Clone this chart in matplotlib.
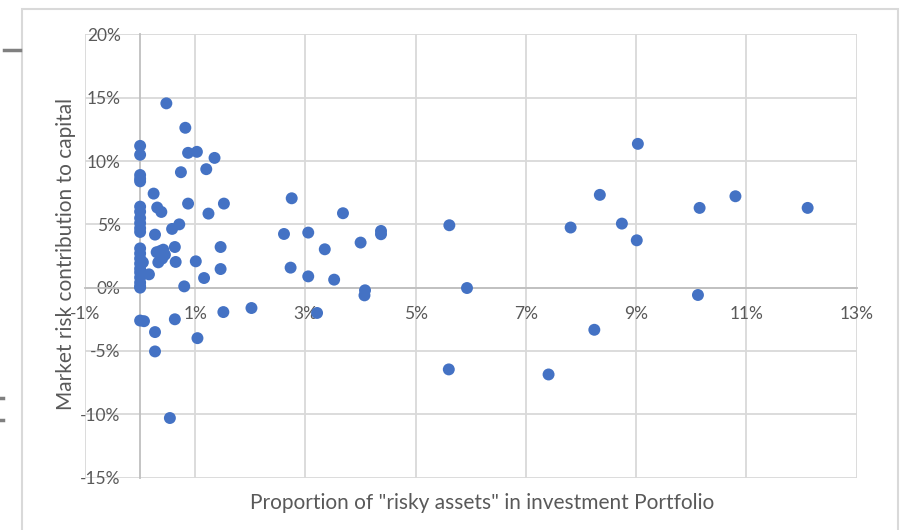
import matplotlib
matplotlib.use("Agg")
import matplotlib.pyplot as plt
from matplotlib.lines import Line2D
from matplotlib.patches import Rectangle
from matplotlib.ticker import FuncFormatter

# Proportion of risky assets (%) and market risk contribution (%)
risky_share = [
    # stack at 0%
    0, 0, 0, 0, 0, 0, 0, 0, 0, 0, 0, 0, 0, 0, 0, 0, 0, 0, 0, 0, 0, 0,
    # near zero
    0.07, 0.16, 0.05, 0.245, 0.31, 0.385, 0.27, 0.58, 0.71, 0.87, 1.24, 1.52,
    1.46, 1.46, 1.01, 1.16, 0.80, 0.645, 0.63,
    0.33, 0.37, 0.42, 0.40, 0.45, 0.30,
    0.476, 0.82, 0.87, 1.03, 1.35, 1.20, 0.74,
    1.51, 2.02, 0.63, 0.27, 1.04, 0.27, 0.54,
    # middle
    2.75, 3.68, 2.61, 3.05, 4.37, 4.37, 4.00, 3.35, 5.61, 2.73, 3.05, 3.52,
    4.08, 4.07, 5.93, 3.21, 5.60, 7.41,
    # right
    9.03, 8.34, 10.80, 10.15, 12.11, 7.81, 8.74, 9.01, 10.12, 8.24,
]
risk_contribution = [
    11.2, 10.5, 8.9, 8.6, 8.4, 6.4, 6.0, 5.5, 5.1, 4.7, 4.4,
    3.1, 2.7, 2.3, 1.9, 1.5, 1.2, 0.8, 0.4, 0.1, -2.6, 0.0,
    -2.65, 1.05, 2.0, 7.43, 6.33, 5.98, 4.19, 4.64, 5.0, 6.64, 5.85, 6.64,
    3.21, 1.47, 2.08, 0.76, 0.1, 2.03, 3.21,
    2.0, 2.9, 3.0, 2.3, 2.6, 2.8,
    14.56, 12.63, 10.65, 10.73, 10.25, 9.36, 9.12,
    -1.93, -1.61, -2.5, -3.51, -3.99, -5.04, -10.3,
    7.06, 5.88, 4.24, 4.35, 4.48, 4.22, 3.56, 3.03, 4.93, 1.58, 0.89, 0.63,
    -0.21, -0.61, -0.03, -2.0, -6.46, -6.86,
    11.36, 7.33, 7.22, 6.30, 6.30, 4.75, 5.06, 3.74, -0.58, -3.33,
]

x_ticks = [-1, 1, 3, 5, 7, 9, 11, 13]
y_ticks = [-15, -10, -5, 0, 5, 10, 15, 20]
x_title = 'Proportion of "risky assets" in investment Portfolio'
y_title = "Market risk contribution to capital"

W, H = 902, 530
fig = plt.figure(figsize=(W / 100, H / 100), dpi=100)
FONT = "Lato"
TXT = "#595959"
GRID = "#d9d9d9"

# outer chart border
fig.patches.append(Rectangle((22 / W, -0.05), 876 / W, (H - 9) / H + 0.05,
                             transform=fig.transFigure, fill=False,
                             edgecolor="#d9d9d9", linewidth=1.5))
# stray marks at left edge
fig.add_artist(Line2D([4 / W, 20 / W], [1 - 50 / H, 1 - 50 / H],
                      color="#808080", linewidth=2.5, transform=fig.transFigure))
for yy in (398, 420):
    fig.add_artist(Line2D([0, 3 / W], [1 - yy / H, 1 - yy / H],
                          color="#808080", linewidth=2.5, transform=fig.transFigure))

ax = fig.add_axes([85 / W, 1 - 477.5 / H, (856.7 - 85) / W, (477.5 - 34.5) / H])
ax.set_xlim(-1, 13)
ax.set_ylim(-15, 20)
ax.set_xticks(x_ticks)
ax.set_yticks(y_ticks)
ax.grid(True, color=GRID, linewidth=1.3, zorder=0)
ax.set_axisbelow(True)

for s in ("top", "right"):
    ax.spines[s].set_visible(False)
ax.spines["left"].set_position(("data", 0))
ax.spines["bottom"].set_position(("data", 0))
ax.spines["left"].set_color("#bfbfbf")
ax.spines["bottom"].set_color("#bfbfbf")
ax.spines["left"].set_linewidth(1.3)
ax.spines["bottom"].set_linewidth(1.3)

fmt = FuncFormatter(lambda v, p: f"{v:.0f}%")
ax.xaxis.set_major_formatter(fmt)
ax.yaxis.set_major_formatter(fmt)
ax.tick_params(axis="both", length=0, colors=TXT, labelsize=12.5)
ax.tick_params(axis="y", pad=14)
ax.tick_params(axis="x", pad=13)
for lab in ax.get_xticklabels() + ax.get_yticklabels():
    lab.set_fontfamily(FONT)

ax.scatter(risky_share, risk_contribution, s=74, color="#4472C4",
           edgecolors="none", zorder=3, clip_on=False)

fig.text(482 / W, 1 - 503 / H, x_title, ha="center", va="center",
         color=TXT, fontsize=15, fontfamily=FONT)
fig.text(66 / W, 1 - 254 / H, y_title, ha="center", va="center",
         rotation=90, color=TXT, fontsize=15, fontfamily=FONT)

fig.savefig("out.png", dpi=100)
